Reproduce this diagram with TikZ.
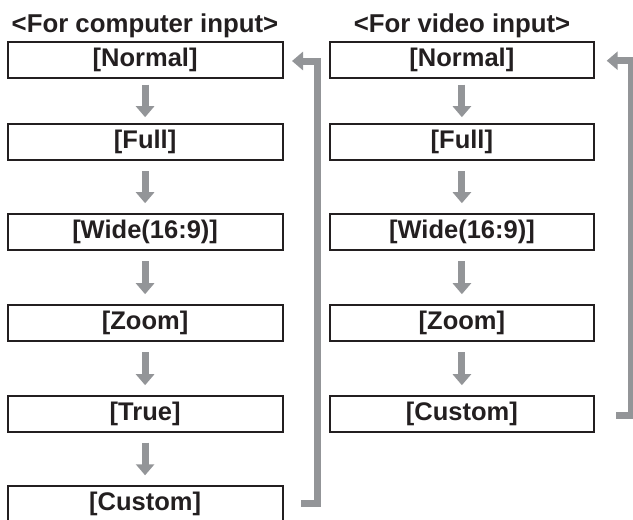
\documentclass[tikz,border=0pt]{standalone}
\usepackage{fontspec}
\setmainfont{Liberation Sans}
\usetikzlibrary{arrows.meta}
\definecolor{arrowgray}{RGB}{147,149,152}
\definecolor{boxline}{RGB}{35,31,32}
\tikzset{
  modebox/.style={draw=boxline, line width=2pt, inner sep=0pt, minimum height=36pt,
    font=\fontsize{25.5}{30}\selectfont\bfseries, text=boxline},
  leftbox/.style={modebox, minimum width=274.8pt},
  rightbox/.style={modebox, minimum width=263.2pt},
  titletext/.style={inner sep=0pt, anchor=base, font=\fontsize{25.8}{30}\selectfont\bfseries, text=boxline},
  garrow/.style={draw=arrowgray, line width=7pt, line join=miter,
    -{Triangle[width=18pt,length=11pt]}},
}
\begin{document}
\begin{tikzpicture}[x=1pt,y=-1pt]
\useasboundingbox (0,0) rectangle (633,520);
% titles
\node[titletext] (tl) at (145,32) {<For computer input>};
\node[titletext] (tr) at (462,32) {<For video input>};
% left column
\node[leftbox] (l1) at (145.1,59.5) {[Normal]};
\node[leftbox] (l2) at (145.1,142.2) {[Full]};
\node[leftbox] (l3) at (145.1,232.2) {[Wide(16:9)]};
\node[leftbox] (l4) at (145.1,323.2) {[Zoom]};
\node[leftbox] (l5) at (145.1,414.2) {[True]};
\node[leftbox] (l6) at (145.1,503.8) {[Custom]};
% right column
\node[rightbox] (r1) at (461.9,59.5) {[Normal]};
\node[rightbox] (r2) at (461.9,142.2) {[Full]};
\node[rightbox] (r3) at (461.9,232.2) {[Wide(16:9)]};
\node[rightbox] (r4) at (461.9,323.2) {[Zoom]};
\node[rightbox] (r5) at (461.9,414.2) {[Custom]};
% down arrows
\draw[garrow, shorten <=6pt, shorten >=6pt] (l1) -- (l2);
\draw[garrow, shorten <=10pt, shorten >=10pt] (l2) -- (l3);
\draw[garrow, shorten <=10pt, shorten >=10pt] (l3) -- (l4);
\draw[garrow, shorten <=10pt, shorten >=10pt] (l4) -- (l5);
\draw[garrow, shorten <=9.5pt, shorten >=9.5pt] (l5) -- (l6);
\draw[garrow, shorten <=6pt, shorten >=6pt] (r1) -- (r2);
\draw[garrow, shorten <=10pt, shorten >=10pt] (r2) -- (r3);
\draw[garrow, shorten <=10pt, shorten >=10pt] (r3) -- (r4);
\draw[garrow, shorten <=10pt, shorten >=10pt] (r4) -- (r5);
% loop arrows
\coordinate (lstub) at (301,503.3);
\coordinate (ltip) at (292,61);
\coordinate (rstub) at (616,415.3);
\coordinate (rtip) at (606.7,60.7);
\draw[garrow] (lstub) -- ++(16,0) |- (ltip);
\draw[garrow] (rstub) -- ++(15,0) |- (rtip);
\end{tikzpicture}
\end{document}
